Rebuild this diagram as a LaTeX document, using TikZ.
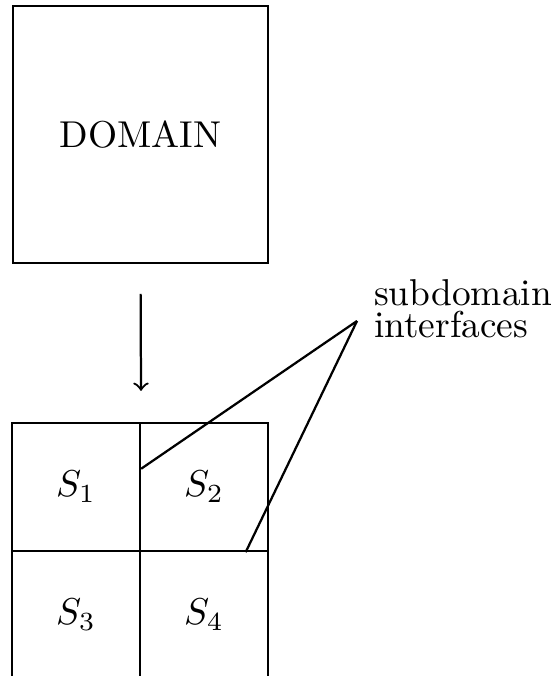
\documentclass[tikz,border=0pt]{standalone}
\usepackage{amsfonts, amsmath, amssymb}
\usetikzlibrary{calc}

\begin{document}
\begin{tikzpicture}[x=0.2674pt, y=-0.2674pt, line width=0.6pt]
                \useasboundingbox (0,0) rectangle (551,676);

                % Draw the whole domain
                \node[draw, minimum width=68.2pt, minimum height=68.7pt] (domain) at (140.5, 134.5) {DOMAIN};

                % Draw the four subdomains
                \foreach \name/\x/\y in {1/76/487, 2/204/487, 3/76/615, 4/204/615}
                    \node[draw, minimum width=34.23pt, minimum height=34.23pt] (S\name) at (\x, \y) {$S_{\name}$};

                % Draw arrow from domain to subdomains
                \coordinate (gridtop) at (S1.north east);
                \draw[->, shorten <=8pt, shorten >=8.3pt] (domain.south) -- (gridtop);

                % Draw label and its pointers
                \node[align=left, anchor=west, inner sep=0pt, font=\fontsize{10pt}{8.6pt}\selectfont] (label) at (373, 309) {subdomain\\interfaces};
                \coordinate (apex) at (357, 321);
                \draw (apex) -- ($(S1.north east)!0.36!(S1.south east)$);
                \draw (apex) -- ($(S2.south west)!0.82!(S2.south east)$);
            \end{tikzpicture}
\end{document}
